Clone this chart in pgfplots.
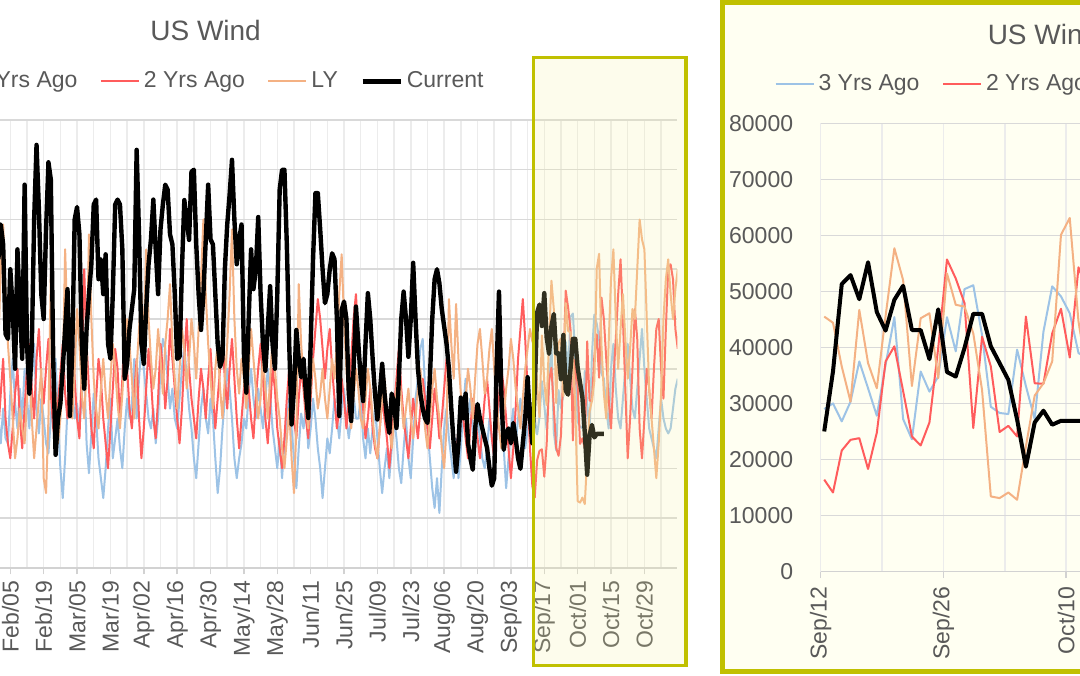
\documentclass[border=0pt]{standalone}
\usepackage{fontspec}
\setmainfont{Liberation Sans}
\usepackage{pgfplots}
\usepackage{pgfplotstable}
\pgfplotsset{compat=1.18}
\definecolor{txt}{RGB}{89,89,89}
\definecolor{cblue}{RGB}{157,195,230}
\definecolor{cred}{RGB}{255,92,92}
\definecolor{corange}{RGB}{244,177,131}
\definecolor{hgrid}{RGB}{217,217,217}
\definecolor{vgrid}{RGB}{236,236,236}
\definecolor{axgrey}{RGB}{210,210,210}
\definecolor{olivebd}{RGB}{192,192,0}
\definecolor{ivory}{RGB}{255,255,242}
\definecolor{ovl}{RGB}{245,240,160}

\pgfplotstableread{
d y3 y2 ly
30 30 28 45
31 25 35 60
32 32 42 69
33 26 30 55
34 25 25 45
35 35 22 38
36 42 28 30
37 33 35 22
38 28 40 26
39 36 30 32
40 30 24 28
41 40 32 25
42 34 40 34
43 28 45 40
44 38 36 30
45 45 30 22
46 32 42 28
47 27 48 34
48 34 38 40
49 30 33 18
50 25 40 15
51 23 46 30
52 30 35 59
53 38 28 42
54 42 25 35
55 30 33 25
56 20 39 30
57 14 45 38
58 22 35 64
59 32 30 48
60 39 42 38
61 36 50 30
62 30 38 40
63 33 30 52
64 28 26 45
65 35 40 35
66 40 60 30
67 25 45 40
68 19 36 67
69 27 28 50
70 35 24 38
71 30 34 32
72 22 42 28
73 18 38 36
74 14 30 42
75 20 25 35
76 28 20 30
77 34 28 38
78 22 36 45
79 26 44 40
80 30 40 33
81 24 30 28
82 20 38 35
83 28 48 43
84 34 40 50
85 30 32 45
86 33 28 38
87 42 35 30
88 30 42 40
89 38 30 48
90 45 22 55
91 40 28 45
92 35 36 64
93 30 44 50
94 28 38 42
95 32 30 36
96 25 26 40
97 30 34 48
98 40 45 42
99 46 40 35
100 44 32 45
101 38 38 50
102 32 48 57
103 36 42 45
104 30 36 38
105 28 30 32
106 34 25 40
107 40 32 48
108 45 42 44
109 38 50 36
110 32 40 42
111 28 34 50
112 22 30 45
113 18 26 38
114 25 34 48
115 32 40 58
116 36 36 70
117 30 30 55
118 27 38 45
119 34 44 38
120 30 35 32
121 22 28 40
122 15 34 45
123 20 40 36
124 28 46 30
125 34 38 38
126 40 32 45
127 36 40 55
128 30 46 68
129 22 38 50
130 18 30 40
131 22 24 35
132 25 30 42
133 30 36 38
134 28 42 32
135 35 36 40
136 40 30 48
137 34 26 42
138 30 34 36
139 36 40 30
140 32 45 34
141 28 38 42
142 34 30 36
143 40 25 30
144 35 32 38
145 28 40 46
146 24 36 40
147 20 28 34
148 26 24 30
149 18 20 24
150 25 26 20
151 30 34 26
152 34 40 32
153 28 35 22
154 22 30 15
155 16 26 28
156 24 34 57
157 31 40 45
158 28 36 38
159 32 30 32
160 24 26 28
161 28 34 36
162 34 42 42
163 30 48 38
164 24 54 32
165 20 50 35
166 14 44 40
167 20 38 34
168 26 44 30
169 23 48 36
170 28 40 42
171 34 34 38
172 30 28 45
173 26 32 55
174 32 38 63
175 36 34 50
176 30 28 40
177 26 34 32
178 30 42 28
179 35 50 34
180 30 55 40
181 30 46 36
182 34 38 30
183 26 32 28
184 22 26 34
185 28 30 40
186 23 36 36
187 28 28 30
188 32 24 25
189 26 22 22
190 20 28 28
191 15 34 34
192 20 30 38
193 24 26 32
194 18 20 28
195 24 26 24
196 30 32 30
197 26 38 36
198 20 44 40
199 17 36 34
200 24 30 28
201 30 26 32
202 22 22 36
203 18 28 30
204 26 34 26
205 34 30 30
206 38 26 36
207 44 32 40
208 46 38 34
209 36 34 28
210 28 28 24
211 22 24 30
212 16 30 36
213 12 36 40
214 18 32 34
215 11 26 30
216 20 30 24
217 28 36 20
218 32 42 28
219 26 38 54
220 22 32 45
221 18 26 38
222 26 22 53
223 18 28 42
224 24 34 35
225 32 30 30
226 38 26 34
227 30 22 40
228 34 28 36
229 28 34 30
230 24 30 38
231 30 26 45
232 26 22 48
233 22 28 42
234 20 34 35
235 24 38 38
236 30 32 44
237 26 26 48
238 22 22 40
239 28 28 34
240 34 34 28
241 30 40 24
242 24 36 30
243 16 30 36
244 22 24 40
245 28 18 46
246 32 24 42
247 25 32 36
248 30 42 32
249 34 48 28
250 28 54 34
251 24 46 40
252 28 36 44
253 30 24 48
254 29.0 16.4 45.5
255 30.0 14.1 44.4
256 26.8 21.6 36.6
257 30.3 23.5 30.3
258 37.5 23.8 46.7
259 32.7 18.3 37.2
260 27.8 24.8 32.7
261 36.9 37.5 45.6
262 45.4 40.2 57.7
263 27.2 32.2 52.0
264 23.6 24.1 33.1
265 35.7 22.5 45.2
266 32.1 26.6 46.1
267 34.8 39.9 34.5
268 45.4 55.7 53.2
269 39.3 52.3 47.6
270 50.4 47.9 47.3
271 51.1 25.6 42.5
272 42.2 41.9 32.4
273 29.4 36.6 13.4
274 28.3 24.9 13.1
275 28.1 26.0 14.1
276 39.6 24.1 12.8
277 33.1 45.5 22.3
278 27.2 33.6 31.4
279 42.8 33.5 33.6
280 50.9 42.5 37.5
281 49.1 46.9 60.1
282 46.1 38.2 63.1
283 39.0 54.3 44.6
284 38 50 35
285 32 42 30
286 28 34 45
287 40 28 58
288 45 38 64
289 36 46 50
290 30 55 40
291 28 62 48
292 34 50 55
293 40 36 46
294 45 22 38
295 38 30 44
296 32 40 52
297 30 52 50
298 36 46 60
299 42 28 70
300 48 22 66
301 40 30 64
302 34 40 50
303 28 36 36
304 26 30 30
305 24 40 24
306 22 48 18
307 28 50 25
308 34 40 35
309 30 34 50
310 28 48 58
311 27 60 62
312 28 61 55
313 32 58 50
314 36 48 56
315 38 44 60
}\tbl

\pgfplotstableread{
d cur
30 62
31 69
32 65
33 47
34 46
35 60
36 52
37 40
38 64
39 52
40 42
41 77
42 45
43 35
44 44
45 70
46 85
47 72
48 55
49 50
50 68
51 81.5
52 78
53 42
54 22.7
55 30
56 33
57 40
58 48
59 56
60 30.5
61 44
62 70
63 72.5
64 67
65 45
66 36
67 48
68 55
69 61
70 73
71 74
72 58
73 62
74 55
75 63
76 45
77 42
78 55
79 73
80 74
81 73
82 64
83 38
84 41
85 48
86 52
87 56
88 84
89 67
90 45
91 41
92 52
93 61
94 66
95 74
96 64
97 55
98 68
99 73
100 77
101 76
102 67
103 65
104 55
105 42
106 42.4
107 60
108 73.9
109 70
110 65.9
111 79.6
112 80
113 65
114 55
115 47.8
116 55
117 66
118 77
119 66
120 65
121 55
122 45
123 40.4
124 42
125 60
126 69
127 75
128 82
129 70
130 61
131 66
132 69
133 43
134 35.2
135 50
136 64
137 56
138 60
139 70.5
140 55
141 45
142 39.6
143 48
144 56.6
145 45
146 40
147 55
148 76
149 80
150 80
151 65
152 45
153 28.8
154 36
155 47.8
156 42
157 38.3
158 42
159 35
160 30.1
161 45
162 62
163 75.3
164 75.3
165 68
166 60
167 53.2
168 55
169 60
170 63.2
171 62
172 50
173 30.5
174 51.8
175 53.5
176 50
177 35
178 29.5
179 40
180 52.5
181 45
182 38
183 33.5
184 45
185 55.2
186 50
187 42
188 35
189 29.8
190 35
191 41
192 35
193 30
194 27.1
195 35
196 33
197 28.1
198 38
199 50
200 55.5
201 50
202 42.4
203 50
204 61.3
205 50
206 40
207 35
208 32
209 30
210 29.1
211 38
212 50
213 58
214 60
215 57.2
216 52
217 48.5
218 45
219 40
220 32
221 25
222 19.3
223 25
224 34.2
225 30
226 35
227 25
228 22
229 19.7
230 28
231 32.9
232 30
233 28
234 26
235 24.1
236 20
237 16.5
238 18
239 40
240 55.5
241 35
242 23.7
243 27
244 28
245 25
246 29.1
247 26
248 22
249 19.9
250 25
251 30
252 38.3
253 30
254 25.0
255 35.7
256 51.3
257 52.9
258 48.6
259 55.2
260 46.3
261 43.0
262 48.5
263 51.0
264 43.1
265 43.1
266 37.9
267 46.8
268 35.6
269 34.8
270 39.9
271 46.0
272 46.0
273 40.2
274 37.2
275 34.2
276 27.1
277 18.7
278 26.6
279 28.7
280 26.2
281 26.9
282 26.9
283 26.9
284 26.9
}\tblcur

\pgfplotsset{
  windaxis/.style={
    scale only axis, clip=true,
    axis x line*=bottom, axis y line*=left,
    x axis line style={draw=axgrey, line width=0.75pt, -},
    y axis line style={draw=none},
    xmajorgrids, xminorgrids, ymajorgrids,
    major x grid style={draw=vgrid, line width=0.75pt},
    minor x grid style={draw=vgrid, line width=0.75pt},
    major y grid style={draw=hgrid, line width=0.75pt},
    tick align=outside, major tick length=3.3pt, minor tick length=0pt,
    xtick style={draw=axgrey, line width=0.75pt},
    ytick style={draw=none},
    scaled y ticks=false, scaled x ticks=false,
    every tick label/.append style={font=\fontsize{11.5}{13}\selectfont, text=txt},
    xticklabel style={rotate=90, anchor=east, inner sep=0pt},
    yticklabel style={anchor=east, inner sep=0pt, xshift=-10.3pt},
    legend columns=4,
    legend cell align=left,
    legend image code/.code={\path (-11.25pt,0pt) (21pt,0pt); \draw[##1] (0pt,0pt) -- (19pt,0pt);},
  }
}

\begin{document}
\begin{tikzpicture}
\useasboundingbox (0,0) rectangle (540pt,337.5pt);
\clip (0,0) rectangle (540pt,337.5pt);
\fill[white] (0,0) rectangle (540pt,337.5pt);
\node[font=\fontsize{14}{16}\selectfont, text=txt, inner sep=0pt] at (102.8pt,322.5pt) {US Wind};
\begin{axis}[windaxis,
  at={(-0.805pt,53.625pt)}, anchor=south west,
  width=339.45pt, height=223.875pt,
  xmin=30, xmax=314.8, ymin=0, ymax=90000,
  xtick={35,49,...,301}, minor xtick={42,56,...,308},
  xticklabels={Feb/05,Feb/19,Mar/05,Mar/19,Apr/02,Apr/16,Apr/30,May/14,May/28,Jun/11,Jun/25,Jul/09,Jul/23,Aug/06,Aug/20,Sep/03,Sep/17,Oct/01,Oct/15,Oct/29},
  xticklabel shift=3pt,
  ytick={0,10000,...,90000},
  yticklabels={},
  legend style={at={(axis description cs:-0.1302,1.0864)}, anchor=west, draw=none, fill=none,
    inner sep=0pt, outer sep=0pt, column sep=0pt,
    nodes={inner sep=0pt, text=txt, font=\fontsize{11.5}{13}\selectfont}},
]
\addplot[cblue, line width=1pt, line join=round] table[x=d, y expr=\thisrow{y3}*1000]{\tbl};
\addlegendentry{3 Yrs Ago}
\addplot[cred, line width=1pt, line join=round] table[x=d, y expr=\thisrow{y2}*1000]{\tbl};
\addlegendentry{2 Yrs Ago}
\addplot[corange, line width=1pt, line join=round] table[x=d, y expr=\thisrow{ly}*1000]{\tbl};
\addlegendentry{LY}
\addplot[black, line width=2.2pt, line join=round] table[x=d, y expr=\thisrow{cur}*1000]{\tblcur};
\addlegendentry{Current}
\end{axis}
\fill[ovl, fill opacity=0.2] (266.75pt,4.75pt) rectangle (343pt,308.75pt);
\draw[olivebd, line width=1.65pt] (266.75pt,4.75pt) rectangle (343pt,308.75pt);
\filldraw[draw=olivebd, fill=ivory, line width=2.5pt] (361.25pt,1.75pt) rectangle (547.5pt,336.25pt);
\node[font=\fontsize{14}{16}\selectfont, text=txt, inner sep=0pt] at (521.5pt,320.5pt) {US Wind};
\begin{axis}[windaxis,
  at={(410.35pt,51.75pt)}, anchor=south west,
  width=140.3pt, height=224.1pt,
  xmin=254, xmax=286, ymin=0, ymax=80000,
  xtick={254,268,282}, minor xtick={261,275},
  xticklabels={Sep/12,Sep/26,Oct/10},
  xticklabel shift=4pt,
  ytick={0,10000,...,80000},
  yticklabels={0,10000,20000,30000,40000,50000,60000,70000,80000},
  legend style={at={(axis description cs:-0.2448,1.0883)}, anchor=west, draw=none, fill=none,
    inner sep=0pt, outer sep=0pt, column sep=0pt,
    nodes={inner sep=0pt, text=txt, font=\fontsize{11.5}{13}\selectfont}},
  restrict x to domain=254:290,
]
\addplot[cblue, line width=1pt, line join=round] table[x expr=\thisrow{d}+0.4, y expr=\thisrow{y3}*1000]{\tbl};
\addlegendentry{3 Yrs Ago}
\addplot[cred, line width=1pt, line join=round] table[x expr=\thisrow{d}+0.4, y expr=\thisrow{y2}*1000]{\tbl};
\addlegendentry{2 Yrs Ago}
\addplot[corange, line width=1pt, line join=round] table[x expr=\thisrow{d}+0.4, y expr=\thisrow{ly}*1000]{\tbl};
\addlegendentry{LY}
\addplot[black, line width=2pt, line join=round] table[x expr=\thisrow{d}+0.4, y expr=\thisrow{cur}*1000]{\tblcur};
\addlegendentry{Current}
\end{axis}
\end{tikzpicture}
\end{document}
